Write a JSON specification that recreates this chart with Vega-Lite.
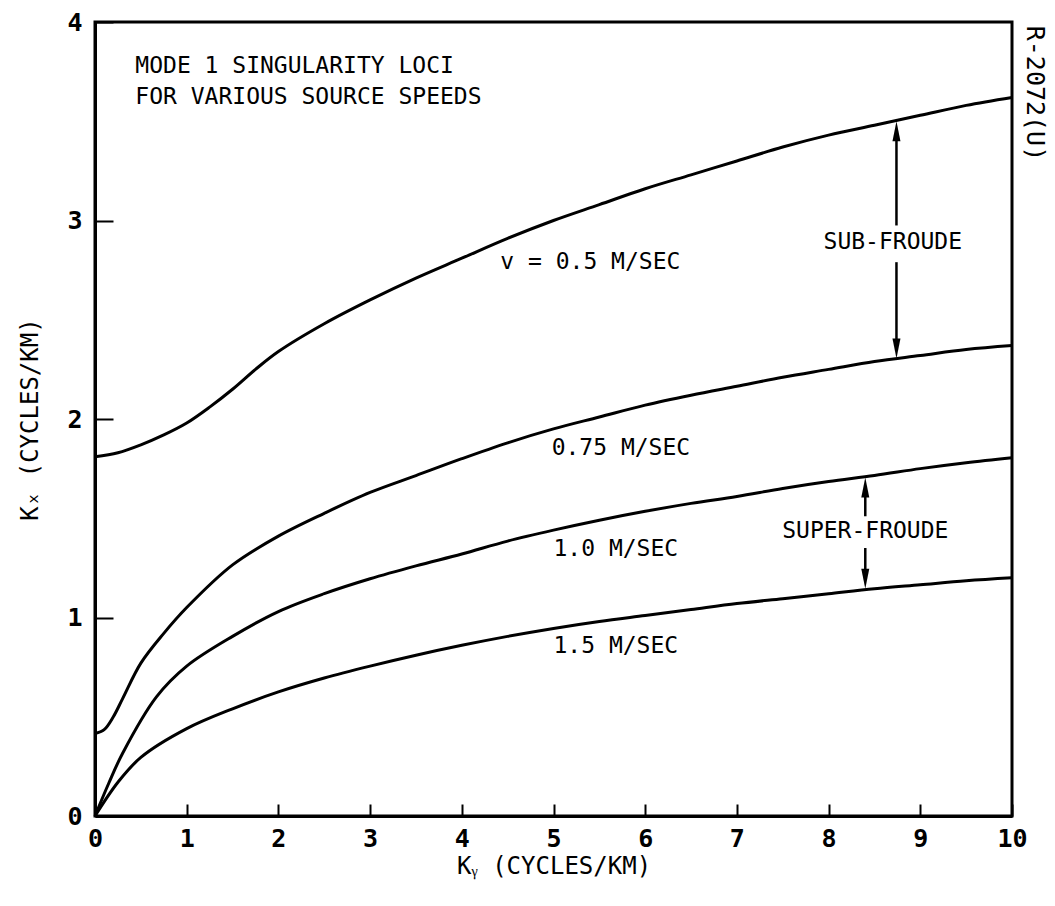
{
  "$schema": "https://vega.github.io/schema/vega-lite/v6.json",
  "width": 917,
  "height": 794,
  "autosize": {"type": "none"},
  "padding": {"left": 95, "top": 22, "right": 43, "bottom": 90},
  "background": "white",
  "config": {
    "view": {"stroke": "black", "strokeWidth": 3},
    "font": "DejaVu Sans Mono"
  },
  "datasets": {
    "curves": [
      {"speed": "0.5", "ky": 0, "kx": 1.81}, {"speed": "0.5", "ky": 0.25, "kx": 1.83}, {"speed": "0.5", "ky": 0.5, "kx": 1.87},
      {"speed": "0.5", "ky": 0.75, "kx": 1.92}, {"speed": "0.5", "ky": 1, "kx": 1.98}, {"speed": "0.5", "ky": 1.25, "kx": 2.06},
      {"speed": "0.5", "ky": 1.5, "kx": 2.15}, {"speed": "0.5", "ky": 1.75, "kx": 2.25}, {"speed": "0.5", "ky": 2, "kx": 2.34},
      {"speed": "0.5", "ky": 2.5, "kx": 2.48}, {"speed": "0.5", "ky": 3, "kx": 2.6}, {"speed": "0.5", "ky": 3.5, "kx": 2.71},
      {"speed": "0.5", "ky": 4, "kx": 2.81}, {"speed": "0.5", "ky": 4.5, "kx": 2.91}, {"speed": "0.5", "ky": 5, "kx": 3.0},
      {"speed": "0.5", "ky": 5.5, "kx": 3.08}, {"speed": "0.5", "ky": 6, "kx": 3.16}, {"speed": "0.5", "ky": 6.5, "kx": 3.23},
      {"speed": "0.5", "ky": 7, "kx": 3.3}, {"speed": "0.5", "ky": 7.5, "kx": 3.37}, {"speed": "0.5", "ky": 8, "kx": 3.43},
      {"speed": "0.5", "ky": 8.5, "kx": 3.48}, {"speed": "0.5", "ky": 9, "kx": 3.53}, {"speed": "0.5", "ky": 9.5, "kx": 3.58},
      {"speed": "0.5", "ky": 10, "kx": 3.62},
      {"speed": "0.75", "ky": 0, "kx": 0.415}, {"speed": "0.75", "ky": 0.1, "kx": 0.435}, {"speed": "0.75", "ky": 0.2, "kx": 0.5},
      {"speed": "0.75", "ky": 0.3, "kx": 0.59},
      {"speed": "0.75", "ky": 0.5, "kx": 0.77}, {"speed": "0.75", "ky": 0.75, "kx": 0.92}, {"speed": "0.75", "ky": 1, "kx": 1.05},
      {"speed": "0.75", "ky": 1.5, "kx": 1.265}, {"speed": "0.75", "ky": 2, "kx": 1.41}, {"speed": "0.75", "ky": 2.5, "kx": 1.525},
      {"speed": "0.75", "ky": 3, "kx": 1.63}, {"speed": "0.75", "ky": 3.5, "kx": 1.715}, {"speed": "0.75", "ky": 4, "kx": 1.8},
      {"speed": "0.75", "ky": 4.5, "kx": 1.88}, {"speed": "0.75", "ky": 5, "kx": 1.95}, {"speed": "0.75", "ky": 5.5, "kx": 2.01},
      {"speed": "0.75", "ky": 6, "kx": 2.07}, {"speed": "0.75", "ky": 6.5, "kx": 2.12}, {"speed": "0.75", "ky": 7, "kx": 2.165},
      {"speed": "0.75", "ky": 7.5, "kx": 2.21}, {"speed": "0.75", "ky": 8, "kx": 2.25}, {"speed": "0.75", "ky": 8.5, "kx": 2.29},
      {"speed": "0.75", "ky": 9, "kx": 2.32}, {"speed": "0.75", "ky": 9.5, "kx": 2.35}, {"speed": "0.75", "ky": 10, "kx": 2.37},
      {"speed": "1.0", "ky": 0, "kx": 0}, {"speed": "1.0", "ky": 0.15, "kx": 0.165}, {"speed": "1.0", "ky": 0.3, "kx": 0.315},
      {"speed": "1.0", "ky": 0.67, "kx": 0.6}, {"speed": "1.0", "ky": 1, "kx": 0.755}, {"speed": "1.0", "ky": 1.5, "kx": 0.905},
      {"speed": "1.0", "ky": 2, "kx": 1.03}, {"speed": "1.0", "ky": 2.5, "kx": 1.12}, {"speed": "1.0", "ky": 3, "kx": 1.195},
      {"speed": "1.0", "ky": 3.5, "kx": 1.26}, {"speed": "1.0", "ky": 4, "kx": 1.32}, {"speed": "1.0", "ky": 4.5, "kx": 1.385},
      {"speed": "1.0", "ky": 5, "kx": 1.44}, {"speed": "1.0", "ky": 5.5, "kx": 1.49}, {"speed": "1.0", "ky": 6, "kx": 1.535},
      {"speed": "1.0", "ky": 6.5, "kx": 1.575}, {"speed": "1.0", "ky": 7, "kx": 1.61}, {"speed": "1.0", "ky": 7.5, "kx": 1.65},
      {"speed": "1.0", "ky": 8, "kx": 1.685}, {"speed": "1.0", "ky": 8.5, "kx": 1.715}, {"speed": "1.0", "ky": 9, "kx": 1.75},
      {"speed": "1.0", "ky": 9.5, "kx": 1.78}, {"speed": "1.0", "ky": 10, "kx": 1.805},
      {"speed": "1.5", "ky": 0, "kx": 0}, {"speed": "1.5", "ky": 0.25, "kx": 0.17}, {"speed": "1.5", "ky": 0.5, "kx": 0.295},
      {"speed": "1.5", "ky": 1, "kx": 0.44}, {"speed": "1.5", "ky": 1.5, "kx": 0.54}, {"speed": "1.5", "ky": 2, "kx": 0.625},
      {"speed": "1.5", "ky": 2.5, "kx": 0.695}, {"speed": "1.5", "ky": 3, "kx": 0.755}, {"speed": "1.5", "ky": 3.5, "kx": 0.81},
      {"speed": "1.5", "ky": 4, "kx": 0.86}, {"speed": "1.5", "ky": 4.5, "kx": 0.905}, {"speed": "1.5", "ky": 5, "kx": 0.945},
      {"speed": "1.5", "ky": 5.5, "kx": 0.98}, {"speed": "1.5", "ky": 6, "kx": 1.01}, {"speed": "1.5", "ky": 6.5, "kx": 1.04},
      {"speed": "1.5", "ky": 7, "kx": 1.07}, {"speed": "1.5", "ky": 7.5, "kx": 1.095}, {"speed": "1.5", "ky": 8, "kx": 1.12},
      {"speed": "1.5", "ky": 8.5, "kx": 1.145}, {"speed": "1.5", "ky": 9, "kx": 1.165}, {"speed": "1.5", "ky": 9.5, "kx": 1.185},
      {"speed": "1.5", "ky": 10, "kx": 1.2}
    ],
    "leftText": [
      {"ky": 0.44, "kx": 3.78, "label": "MODE 1 SINGULARITY LOCI"},
      {"ky": 0.44, "kx": 3.62, "label": "FOR VARIOUS SOURCE SPEEDS"},
      {"ky": 4.42, "kx": 2.79, "label": "v = 0.5 M/SEC"},
      {"ky": 4.98, "kx": 1.856, "label": "0.75 M/SEC"},
      {"ky": 5.0, "kx": 1.346, "label": "1.0 M/SEC"},
      {"ky": 5.0, "kx": 0.857, "label": "1.5 M/SEC"}
    ],
    "centerText": [
      {"ky": 8.7, "kx": 2.89, "label": "SUB-FROUDE"},
      {"ky": 8.4, "kx": 1.437, "label": "SUPER-FROUDE"}
    ],
    "shafts": [
      {"ky": 8.74, "top": 3.45, "bottom": 2.975},
      {"ky": 8.74, "top": 2.79, "bottom": 2.35},
      {"ky": 8.4, "top": 1.66, "bottom": 1.51},
      {"ky": 8.4, "top": 1.35, "bottom": 1.19}
    ],
    "headsUp": [
      {"ky": 8.74, "kx": 3.5},
      {"ky": 8.4, "kx": 1.705}
    ],
    "headsDown": [
      {"ky": 8.74, "kx": 2.305},
      {"ky": 8.4, "kx": 1.145}
    ],
    "stamp": [
      {"ky": 10.25, "kx": 3.64, "label": "R-2072(U)"}
    ]
  },
  "layer": [
    {
      "data": {"name": "curves"},
      "mark": {"type": "line", "interpolate": "catmull-rom", "color": "black", "strokeWidth": 3},
      "encoding": {
        "x": {
          "field": "ky", "type": "quantitative",
          "scale": {"domain": [0, 10], "nice": false},
          "axis": {
            "values": [0, 1, 2, 3, 4, 5, 6, 7, 8, 9, 10],
            "format": "d",
            "title": "Kᵧ (CYCLES/KM)",
            "grid": false,
            "domainColor": "black", "domainWidth": 3,
            "tickColor": "black", "tickWidth": 2, "tickSize": -12,
            "labelFont": "DejaVu Sans Mono", "labelFontSize": 25, "labelColor": "black",
            "labelFontWeight": "bold", "labelPadding": 22, "labelFlush": false,
            "titleFont": "DejaVu Sans Mono", "titleFontSize": 24, "titleFontWeight": "normal",
            "titleColor": "black", "titlePadding": 3
          }
        },
        "y": {
          "field": "kx", "type": "quantitative",
          "scale": {"domain": [0, 4], "nice": false},
          "axis": {
            "values": [0, 1, 2, 3, 4],
            "format": "d",
            "title": "Kₓ (CYCLES/KM)",
            "grid": false,
            "domainColor": "black", "domainWidth": 3,
            "tickColor": "black", "tickWidth": 2, "tickSize": -18,
            "labelFont": "DejaVu Sans Mono", "labelFontSize": 25, "labelColor": "black",
            "labelFontWeight": "bold", "labelPadding": 31, "labelFlush": false,
            "titleFont": "DejaVu Sans Mono", "titleFontSize": 24, "titleFontWeight": "normal",
            "titleColor": "black", "titlePadding": 24
          }
        },
        "detail": {"field": "speed"}
      }
    },
    {
      "data": {"name": "leftText"},
      "mark": {"type": "text", "align": "left", "baseline": "middle", "font": "DejaVu Sans Mono", "fontSize": 23, "color": "black"},
      "encoding": {
        "x": {"field": "ky", "type": "quantitative"},
        "y": {"field": "kx", "type": "quantitative"},
        "text": {"field": "label"}
      }
    },
    {
      "data": {"name": "centerText"},
      "mark": {"type": "text", "align": "center", "baseline": "middle", "font": "DejaVu Sans Mono", "fontSize": 23, "color": "black"},
      "encoding": {
        "x": {"field": "ky", "type": "quantitative"},
        "y": {"field": "kx", "type": "quantitative"},
        "text": {"field": "label"}
      }
    },
    {
      "data": {"name": "shafts"},
      "mark": {"type": "rule", "color": "black", "strokeWidth": 2.5},
      "encoding": {
        "x": {"field": "ky", "type": "quantitative"},
        "y": {"field": "top", "type": "quantitative"},
        "y2": {"field": "bottom"}
      }
    },
    {
      "data": {"name": "headsUp"},
      "mark": {"type": "point", "shape": "M0,0L-0.4,2L0.4,2Z", "filled": true, "color": "black", "opacity": 1, "size": 400},
      "encoding": {
        "x": {"field": "ky", "type": "quantitative"},
        "y": {"field": "kx", "type": "quantitative"}
      }
    },
    {
      "data": {"name": "headsDown"},
      "mark": {"type": "point", "shape": "M0,0L-0.4,-2L0.4,-2Z", "filled": true, "color": "black", "opacity": 1, "size": 400},
      "encoding": {
        "x": {"field": "ky", "type": "quantitative"},
        "y": {"field": "kx", "type": "quantitative"}
      }
    },
    {
      "data": {"name": "stamp"},
      "mark": {"type": "text", "align": "center", "baseline": "middle", "angle": 90, "font": "DejaVu Sans Mono", "fontSize": 25, "color": "black"},
      "encoding": {
        "x": {"field": "ky", "type": "quantitative"},
        "y": {"field": "kx", "type": "quantitative"},
        "text": {"field": "label"}
      }
    }
  ]
}
